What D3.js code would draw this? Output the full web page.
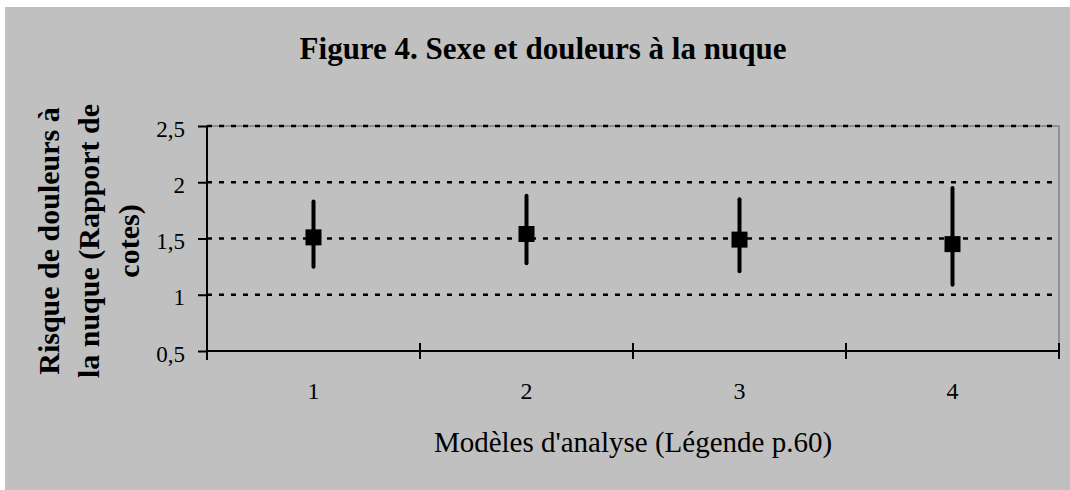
<!DOCTYPE html>
<meta charset="utf-8">
<html>
<head>
  <title>Figure 4. Sexe et douleurs à la nuque</title>
  <script src="https://d3js.org/d3.v7.min.js"></script>
  <style>
    body { margin: 0; background: #fff; }
    text { font-family: "Liberation Serif", "Times New Roman", serif; fill: #000; }
  </style>
</head>
<body>
<div id="chart"></div>
<script>
// data
var models = ["1", "2", "3", "4"];
var oddsRatio = [1.51, 1.54, 1.49, 1.45];
var ciLow = [1.25, 1.28, 1.21, 1.09];
var ciHigh = [1.83, 1.88, 1.85, 1.95];
var yTicks = [0.5, 1, 1.5, 2, 2.5];

var W = 1070, H = 490;
var margin = {top: 126, right: 11, bottom: 139, left: 207};
var width = W - margin.left - margin.right,
    height = H - margin.top - margin.bottom;

var svg = d3.select("#chart").append("svg")
    .attr("width", W)
    .attr("height", H);

// grey chart area
svg.append("rect")
    .attr("x", 5).attr("y", 7)
    .attr("width", W - 5).attr("height", H - 7)
    .attr("fill", "#c0c0c0");

var g = svg.append("g")
    .attr("transform", "translate(" + margin.left + "," + margin.top + ")");

var x = d3.scaleBand().domain(models).range([0, width]);
var y = d3.scaleLinear().domain([0.5, 2.5]).range([height, 0]);

// plot area border (top / right)
g.append("rect")
    .attr("width", width).attr("height", height)
    .attr("fill", "none")
    .attr("stroke", "#808080")
    .attr("stroke-width", 1.5);

// dashed grid
g.selectAll(".grid")
  .data(yTicks.filter(function(d) { return d > 0.5; }))
  .enter().append("line")
    .attr("x1", 0).attr("x2", width)
    .attr("y1", function(d) { return y(d); })
    .attr("y2", function(d) { return y(d); })
    .attr("stroke", "#000")
    .attr("stroke-width", 2.5)
    .attr("stroke-dasharray", "5,7");

// y axis
var yAxis = g.append("g")
    .call(d3.axisLeft(y).tickValues(yTicks).tickSize(9).tickSizeOuter(0).tickPadding(13)
      .tickFormat(function(d) { return String(d).replace(".", ","); }));
yAxis.select(".domain").remove();
yAxis.selectAll("line").attr("stroke", "#000").attr("stroke-width", 2);
yAxis.selectAll("text")
    .attr("font-family", "Liberation Serif, serif")
    .attr("font-size", 23)
    .attr("dy", 10);
g.append("line")
    .attr("x1", 0).attr("x2", 0)
    .attr("y1", 0).attr("y2", height + 9)
    .attr("stroke", "#000").attr("stroke-width", 2);

// x axis
g.append("line")
    .attr("x1", 0).attr("x2", width)
    .attr("y1", height).attr("y2", height)
    .attr("stroke", "#000").attr("stroke-width", 2);
var edges = models.map(function(d) { return x(d); }).concat([width]);
g.selectAll(".xtick")
  .data(edges)
  .enter().append("line")
    .attr("x1", function(d) { return d; })
    .attr("x2", function(d) { return d; })
    .attr("y1", height - 8).attr("y2", height + 8)
    .attr("stroke", "#000").attr("stroke-width", 2);
g.selectAll(".xlabel")
  .data(models)
  .enter().append("text")
    .attr("x", function(d) { return x(d) + x.bandwidth() / 2; })
    .attr("y", 48 + height)
    .attr("text-anchor", "middle")
    .attr("font-size", 24)
    .text(function(d) { return d; });

// error bars and markers
var rows = models.map(function(m, i) {
  return {m: m, v: oddsRatio[i], lo: ciLow[i], hi: ciHigh[i]};
});
g.selectAll(".ci")
  .data(rows)
  .enter().append("line")
    .attr("x1", function(d) { return x(d.m) + x.bandwidth() / 2; })
    .attr("x2", function(d) { return x(d.m) + x.bandwidth() / 2; })
    .attr("y1", function(d) { return y(d.hi); })
    .attr("y2", function(d) { return y(d.lo); })
    .attr("stroke", "#000")
    .attr("stroke-width", 4)
    .attr("stroke-linecap", "round");
g.selectAll(".pt")
  .data(rows)
  .enter().append("rect")
    .attr("x", function(d) { return x(d.m) + x.bandwidth() / 2 - 8; })
    .attr("y", function(d) { return y(d.v) - 8; })
    .attr("width", 16).attr("height", 16)
    .attr("fill", "#000");

// titles
svg.append("text")
    .attr("x", 543).attr("y", 59)
    .attr("text-anchor", "middle")
    .attr("font-size", 31)
    .attr("font-weight", "bold")
    .text("Figure 4. Sexe et douleurs à la nuque");

svg.append("text")
    .attr("x", margin.left + width / 2).attr("y", 452)
    .attr("text-anchor", "middle")
    .attr("font-size", 29)
    .text("Modèles d'analyse (Légende p.60)");

var yTitle = ["Risque de douleurs à", "la nuque (Rapport de", "cotes)"];
svg.append("g")
    .attr("transform", "translate(59,241) rotate(-90)")
  .selectAll("text")
  .data(yTitle)
  .enter().append("text")
    .attr("x", 0)
    .attr("y", function(d, i) { return i * 40; })
    .attr("text-anchor", "middle")
    .attr("font-size", 30)
    .attr("font-weight", "bold")
    .text(function(d) { return d; });
</script>
</body>
</html>
